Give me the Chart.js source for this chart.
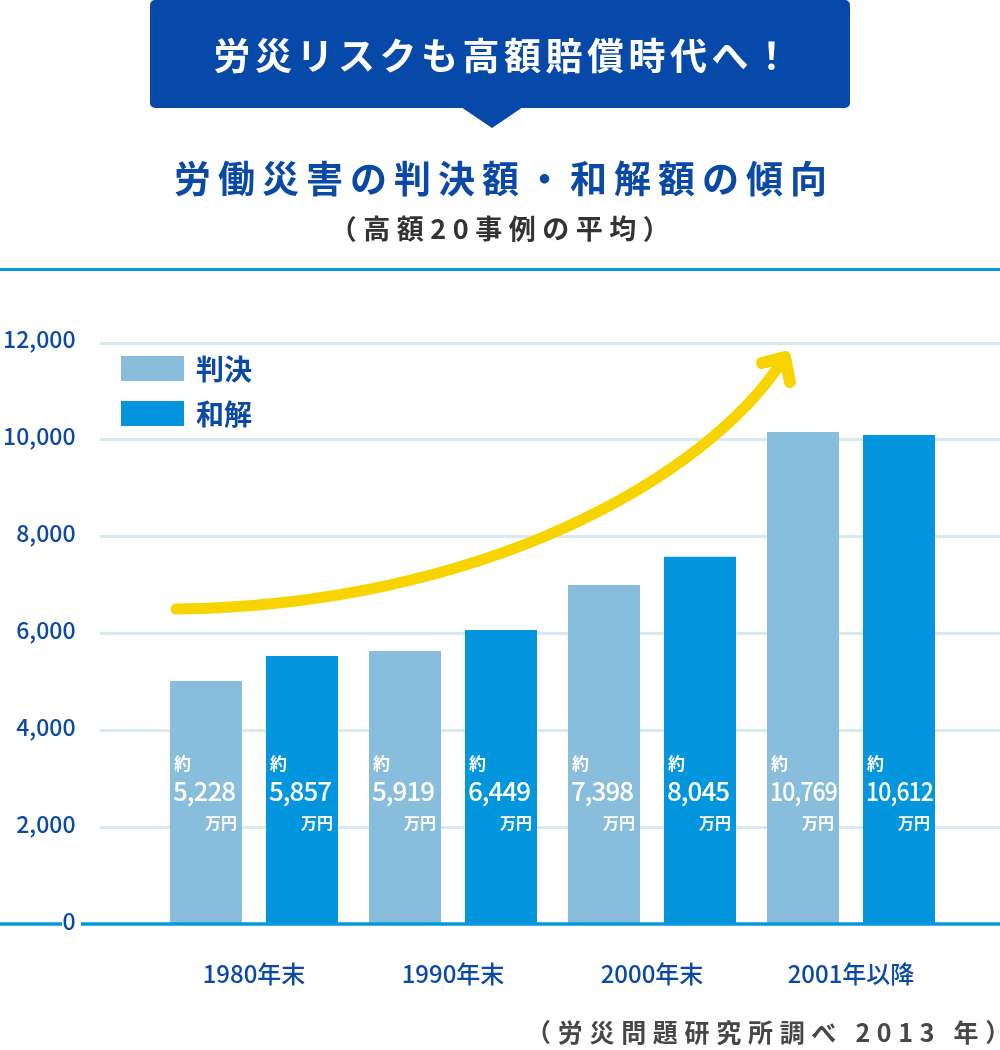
<!DOCTYPE html>
<html lang="ja">
<head>
<meta charset="utf-8">
<script src="https://cdn.jsdelivr.net/npm/chart.js@4/dist/chart.umd.min.js"></script>
<style>
  html, body { margin: 0; padding: 0; background: #ffffff; }
  #wrap { position: relative; width: 1000px; height: 1050px; overflow: hidden; font-family: "Noto Sans CJK JP", "Noto Sans", sans-serif; }
  #c { position: absolute; left: 0; top: 0; }
  .banner { position: absolute; left: 150px; top: 0; width: 700px; height: 108px; background: #0649a9; border-radius: 5px; }
  .banner-tip { position: absolute; left: 461px; top: 107px; width: 0; height: 0; border-left: 31px solid transparent; border-right: 31px solid transparent; border-top: 21px solid #0649a9; }
  .banner-text { position: absolute; left: 154px; top: 0; width: 700px; height: 108px; line-height: 108px; text-align: center; color: #ffffff; font-weight: 700; font-size: 37px; letter-spacing: 4.5px; white-space: nowrap; }
  .title { position: absolute; left: 4px; top: 155px; width: 1000px; text-align: center; color: #0b49a6; font-weight: 700; font-size: 37px; line-height: 44px; letter-spacing: 7px; white-space: nowrap; }
  .subtitle { position: absolute; left: 3px; top: 211px; width: 1000px; text-align: center; color: #333333; font-weight: 700; font-size: 27px; line-height: 34px; letter-spacing: 6.5px; white-space: nowrap; }
  .topline { position: absolute; left: 0; top: 268px; width: 1000px; height: 3px; background: #0498dd; }
  .source { position: absolute; right: -17px; top: 1014px; color: #474747; font-weight: 700; font-size: 25px; line-height: 34px; letter-spacing: 6.7px; white-space: nowrap; }
</style>
</head>
<body>
<div id="wrap">
  <canvas id="c" width="1000" height="1050"></canvas>
  <div class="banner"></div>
  <div class="banner-tip"></div>
  <div class="banner-text">労災リスクも高額賠償時代へ！</div>
  <div class="title">労働災害の判決額・和解額の傾向</div>
  <div class="subtitle">（高額20事例の平均）</div>
  <div class="topline"></div>
  <div class="source">（労災問題研究所調べ 2013 年）</div>
</div>
<script>
// ---- data ----
const categories = ['1980年末', '1990年末', '2000年末', '2001年以降'];
const seriesNames = ['判決', '和解'];
// bar heights as drawn against the axis (万円)
const judgmentHeights = [5015, 5633, 6995, 10153];
const settlementHeights = [5530, 6067, 7580, 10091];
// amounts printed inside the bars (約 … 万円)
const judgmentAmounts = [5228, 5919, 7398, 10769];
const settlementAmounts = [5857, 6449, 8045, 10612];
const yTickValues = [0, 2000, 4000, 6000, 8000, 10000, 12000];
// decorative trend arrow: cubic Bezier controls in (category index, value) space
const trendArrowIdx = [-0.392, 1.136, 2.266, 2.658];
const trendArrowVal = [6500, 6583, 9163, 11639];

// ---- styles ----
const FONT = '"Noto Sans CJK JP", "Noto Sans", sans-serif';
const TEXT_BLUE = '#0b49a6';
const COLORS = ['#88bedb', '#0395de'];
const GRID = '#d9e9f0';
const ZERO = '#0898da';
const ARROW = '#f7d400';

const amounts = [judgmentAmounts, settlementAmounts];
const fmt = v => v.toLocaleString('en-US');

const gridPlugin = {
  id: 'fullGrid',
  beforeDatasetsDraw(chart) {
    const ctx = chart.ctx, y = chart.scales.y;
    ctx.save();
    ctx.strokeStyle = GRID;
    ctx.lineWidth = 3;
    yTickValues.forEach(v => {
      if (v === 0) return;
      const py = Math.round(y.getPixelForValue(v)) + 0.5;
      ctx.beginPath();
      ctx.moveTo(100, py);
      ctx.lineTo(chart.width, py);
      ctx.stroke();
    });
    ctx.restore();
  }
};

const overlayPlugin = {
  id: 'overlay',
  afterDatasetsDraw(chart) {
    const ctx = chart.ctx, xs = chart.scales.x, ys = chart.scales.y;
    const area = chart.chartArea;
    ctx.save();
    // zero line with a gap for the "0" label
    const zy = ys.getPixelForValue(0);
    ctx.strokeStyle = ZERO;
    ctx.lineWidth = 3.4;
    ctx.beginPath();
    ctx.moveTo(0, zy); ctx.lineTo(62, zy);
    ctx.moveTo(81, zy); ctx.lineTo(chart.width, zy);
    ctx.stroke();

    // labels inside bars
    chart.data.datasets.forEach((ds, di) => {
      const meta = chart.getDatasetMeta(di);
      meta.data.forEach((bar, i) => {
        const left = bar.x - bar.width / 2;
        const right = bar.x + bar.width / 2;
        ctx.fillStyle = '#ffffff';
        ctx.textBaseline = 'middle';
        ctx.textAlign = 'left';
        ctx.letterSpacing = '0px';
        ctx.font = 'bold 17px ' + FONT;
        ctx.fillText('約', left + 4, area.bottom - 160);
        ctx.font = '500 26px ' + FONT;
        ctx.letterSpacing = '-1px';
        ctx.fillText(fmt(amounts[di][i]), left + 3, area.bottom - 133, bar.width - 5);
        ctx.letterSpacing = '0px';
        ctx.textAlign = 'right';
        ctx.font = 'bold 16px ' + FONT;
        ctx.fillText('万円', right - 5, area.bottom - 101);
      });
    });

    // trend arrow
    const p = trendArrowIdx.map((t, k) => [xs.getPixelForValue(t), ys.getPixelForValue(trendArrowVal[k])]);
    ctx.strokeStyle = ARROW;
    ctx.lineWidth = 11;
    ctx.lineCap = 'round';
    ctx.lineJoin = 'round';
    ctx.beginPath();
    ctx.moveTo(p[0][0], p[0][1]);
    ctx.bezierCurveTo(p[1][0], p[1][1], p[2][0], p[2][1], p[3][0], p[3][1]);
    ctx.stroke();
    const tx = p[3][0] + 2, ty = p[3][1] - 3;
    ctx.lineWidth = 12;
    ctx.beginPath();
    ctx.moveTo(tx - 23, ty + 6);
    ctx.lineTo(tx, ty);
    ctx.lineTo(tx + 5, ty + 25);
    ctx.stroke();

    // legend
    chart.data.datasets.forEach((ds, di) => {
      const top = area.top + 13.5 + di * 45;
      ctx.fillStyle = ds.backgroundColor;
      ctx.fillRect(121, top, 63, 25);
      ctx.fillStyle = TEXT_BLUE;
      ctx.textAlign = 'left';
      ctx.textBaseline = 'middle';
      ctx.font = 'bold 28px ' + FONT;
      ctx.fillText(ds.label, 196, top + 13);
    });
    ctx.restore();
  }
};

new Chart(document.getElementById('c'), {
  type: 'bar',
  data: {
    labels: categories,
    datasets: [
      { label: seriesNames[0], data: judgmentHeights, backgroundColor: COLORS[0], borderWidth: 0 },
      { label: seriesNames[1], data: settlementHeights, backgroundColor: COLORS[1], borderWidth: 0 }
    ]
  },
  options: {
    responsive: false,
    animation: false,
    devicePixelRatio: 1,
    layout: { padding: { top: 342.5, right: 49.5, left: 0, bottom: 0 } },
    datasets: { bar: { barPercentage: 0.75, categoryPercentage: 192 / 199 } },
    plugins: { legend: { display: false }, tooltip: { enabled: false }, title: { display: false } },
    scales: {
      x: {
        grid: { display: false, drawTicks: false },
        border: { display: false },
        ticks: { color: TEXT_BLUE, padding: 35, font: { family: FONT, size: 24, weight: '500' } },
        afterFit(scale) { scale.height = 126; }
      },
      y: {
        min: 0, max: 12000,
        afterBuildTicks(scale) { scale.ticks = yTickValues.map(v => ({ value: v })); },
        grid: { display: false, drawTicks: false },
        border: { display: false },
        ticks: { color: TEXT_BLUE, padding: 79, labelOffset: -3, font: { family: FONT, size: 23, weight: '500' }, callback: v => fmt(v) },
        afterFit(scale) { scale.width = 154.5; }
      }
    }
  },
  plugins: [gridPlugin, overlayPlugin]
});
</script>
</body>
</html>
